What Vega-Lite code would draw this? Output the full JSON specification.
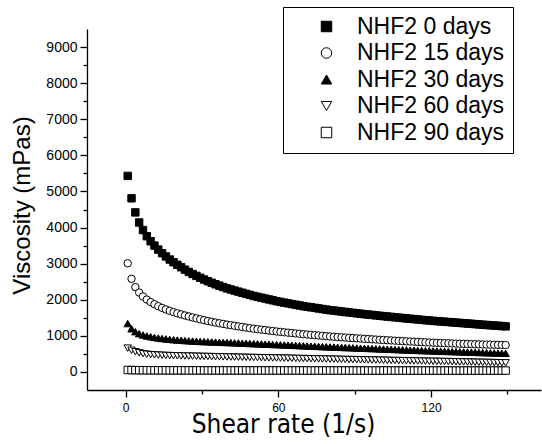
{
"$schema": "https://vega.github.io/schema/vega-lite/v6.json",
"width": 454, "height": 361,
"autosize": "none",
"padding": {"left": 87, "top": 29, "right": 1, "bottom": 54},
"background": "white",
"config": {"view": {"stroke": null}, "font": "Liberation Sans",
 "axis": {"grid": false, "domainColor": "black", "tickColor": "black", "labelColor": "black", "titleColor": "black", "labelFont": "Liberation Sans", "domainWidth": 1.3, "tickWidth": 1.3}},
"data": {"values": [
{"d":0,"x":0.8,"v":5430},{"d":0,"x":2.3,"v":4810},{"d":0,"x":3.8,"v":4420},{"d":0,"x":5.3,"v":4140},{"d":0,"x":6.8,"v":3930},{"d":0,"x":8.3,"v":3760},{"d":0,"x":9.8,"v":3620},{"d":0,"x":11.3,"v":3500},{"d":0,"x":12.8,"v":3390},{"d":0,"x":14.3,"v":3290},
{"d":0,"x":15.8,"v":3200},{"d":0,"x":17.3,"v":3115},{"d":0,"x":18.8,"v":3040},{"d":0,"x":20.3,"v":2968},{"d":0,"x":21.8,"v":2900},{"d":0,"x":23.3,"v":2833},{"d":0,"x":24.8,"v":2770},{"d":0,"x":26.3,"v":2713},{"d":0,"x":27.8,"v":2660},{"d":0,"x":29.3,"v":2608},
{"d":0,"x":30.8,"v":2560},{"d":0,"x":32.3,"v":2513},{"d":0,"x":33.8,"v":2470},{"d":0,"x":35.3,"v":2428},{"d":0,"x":36.8,"v":2390},{"d":0,"x":38.3,"v":2352},{"d":0,"x":39.8,"v":2315},{"d":0,"x":41.3,"v":2284},{"d":0,"x":42.8,"v":2254},{"d":0,"x":44.3,"v":2224},
{"d":0,"x":45.8,"v":2194},{"d":0,"x":47.3,"v":2164},{"d":0,"x":48.8,"v":2134},{"d":0,"x":50.3,"v":2105},{"d":0,"x":51.8,"v":2081},{"d":0,"x":53.3,"v":2057},{"d":0,"x":54.8,"v":2033},{"d":0,"x":56.3,"v":2009},{"d":0,"x":57.8,"v":1985},{"d":0,"x":59.3,"v":1961},
{"d":0,"x":60.8,"v":1940},{"d":0,"x":62.3,"v":1920},{"d":0,"x":63.8,"v":1901},{"d":0,"x":65.3,"v":1881},{"d":0,"x":66.8,"v":1862},{"d":0,"x":68.3,"v":1842},{"d":0,"x":69.8,"v":1823},{"d":0,"x":71.3,"v":1806},{"d":0,"x":72.8,"v":1791},{"d":0,"x":74.3,"v":1775},
{"d":0,"x":75.8,"v":1759},{"d":0,"x":77.3,"v":1743},{"d":0,"x":78.8,"v":1728},{"d":0,"x":80.3,"v":1712},{"d":0,"x":81.8,"v":1700},{"d":0,"x":83.3,"v":1687},{"d":0,"x":84.8,"v":1674},{"d":0,"x":86.3,"v":1661},{"d":0,"x":87.8,"v":1649},{"d":0,"x":89.3,"v":1636},
{"d":0,"x":90.8,"v":1624},{"d":0,"x":92.3,"v":1613},{"d":0,"x":93.8,"v":1601},{"d":0,"x":95.3,"v":1590},{"d":0,"x":96.8,"v":1579},{"d":0,"x":98.3,"v":1568},{"d":0,"x":99.8,"v":1556},{"d":0,"x":101.3,"v":1546},{"d":0,"x":102.8,"v":1535},{"d":0,"x":104.3,"v":1525},
{"d":0,"x":105.8,"v":1514},{"d":0,"x":107.3,"v":1504},{"d":0,"x":108.8,"v":1493},{"d":0,"x":110.3,"v":1483},{"d":0,"x":111.8,"v":1473},{"d":0,"x":113.3,"v":1464},{"d":0,"x":114.8,"v":1454},{"d":0,"x":116.3,"v":1444},{"d":0,"x":117.8,"v":1434},{"d":0,"x":119.3,"v":1425},
{"d":0,"x":120.8,"v":1415},{"d":0,"x":122.3,"v":1407},{"d":0,"x":123.8,"v":1399},{"d":0,"x":125.3,"v":1391},{"d":0,"x":126.8,"v":1383},{"d":0,"x":128.3,"v":1374},{"d":0,"x":129.8,"v":1366},{"d":0,"x":131.3,"v":1359},{"d":0,"x":132.8,"v":1350},{"d":0,"x":134.3,"v":1342},
{"d":0,"x":135.8,"v":1334},{"d":0,"x":137.3,"v":1325},{"d":0,"x":138.8,"v":1317},{"d":0,"x":140.3,"v":1308},{"d":0,"x":141.8,"v":1301},{"d":0,"x":143.3,"v":1293},{"d":0,"x":144.8,"v":1286},{"d":0,"x":146.3,"v":1278},{"d":0,"x":147.8,"v":1271},{"d":0,"x":149.3,"v":1263},
{"d":15,"x":0.8,"v":3010},{"d":15,"x":2.3,"v":2580},{"d":15,"x":3.8,"v":2350},{"d":15,"x":5.3,"v":2200},{"d":15,"x":6.8,"v":2090},{"d":15,"x":8.3,"v":2005},{"d":15,"x":9.8,"v":1935},{"d":15,"x":11.3,"v":1875},{"d":15,"x":12.8,"v":1822},{"d":15,"x":14.3,"v":1775},
{"d":15,"x":15.8,"v":1732},{"d":15,"x":17.3,"v":1693},{"d":15,"x":18.8,"v":1657},{"d":15,"x":20.3,"v":1625},{"d":15,"x":21.8,"v":1595},{"d":15,"x":23.3,"v":1565},{"d":15,"x":24.8,"v":1537},{"d":15,"x":26.3,"v":1510},{"d":15,"x":27.8,"v":1484},{"d":15,"x":29.3,"v":1459},
{"d":15,"x":30.8,"v":1435},{"d":15,"x":32.3,"v":1412},{"d":15,"x":33.8,"v":1390},{"d":15,"x":35.3,"v":1369},{"d":15,"x":36.8,"v":1349},{"d":15,"x":38.3,"v":1330},{"d":15,"x":39.8,"v":1312},{"d":15,"x":41.3,"v":1296},{"d":15,"x":42.8,"v":1279},{"d":15,"x":44.3,"v":1263},
{"d":15,"x":45.8,"v":1246},{"d":15,"x":47.3,"v":1230},{"d":15,"x":48.8,"v":1213},{"d":15,"x":50.3,"v":1197},{"d":15,"x":51.8,"v":1185},{"d":15,"x":53.3,"v":1172},{"d":15,"x":54.8,"v":1159},{"d":15,"x":56.3,"v":1146},{"d":15,"x":57.8,"v":1134},{"d":15,"x":59.3,"v":1121},
{"d":15,"x":60.8,"v":1109},{"d":15,"x":62.3,"v":1099},{"d":15,"x":63.8,"v":1088},{"d":15,"x":65.3,"v":1078},{"d":15,"x":66.8,"v":1067},{"d":15,"x":68.3,"v":1057},{"d":15,"x":69.8,"v":1046},{"d":15,"x":71.3,"v":1037},{"d":15,"x":72.8,"v":1028},{"d":15,"x":74.3,"v":1019},
{"d":15,"x":75.8,"v":1010},{"d":15,"x":77.3,"v":1001},{"d":15,"x":78.8,"v":992},{"d":15,"x":80.3,"v":983},{"d":15,"x":81.8,"v":976},{"d":15,"x":83.3,"v":968},{"d":15,"x":84.8,"v":961},{"d":15,"x":86.3,"v":953},{"d":15,"x":87.8,"v":946},{"d":15,"x":89.3,"v":938},
{"d":15,"x":90.8,"v":931},{"d":15,"x":92.3,"v":925},{"d":15,"x":93.8,"v":918},{"d":15,"x":95.3,"v":911},{"d":15,"x":96.8,"v":904},{"d":15,"x":98.3,"v":898},{"d":15,"x":99.8,"v":891},{"d":15,"x":101.3,"v":885},{"d":15,"x":102.8,"v":879},{"d":15,"x":104.3,"v":873},
{"d":15,"x":105.8,"v":867},{"d":15,"x":107.3,"v":861},{"d":15,"x":108.8,"v":855},{"d":15,"x":110.3,"v":849},{"d":15,"x":111.8,"v":843},{"d":15,"x":113.3,"v":838},{"d":15,"x":114.8,"v":832},{"d":15,"x":116.3,"v":827},{"d":15,"x":117.8,"v":821},{"d":15,"x":119.3,"v":816},
{"d":15,"x":120.8,"v":811},{"d":15,"x":122.3,"v":806},{"d":15,"x":123.8,"v":802},{"d":15,"x":125.3,"v":798},{"d":15,"x":126.8,"v":794},{"d":15,"x":128.3,"v":790},{"d":15,"x":129.8,"v":786},{"d":15,"x":131.3,"v":782},{"d":15,"x":132.8,"v":778},{"d":15,"x":134.3,"v":775},
{"d":15,"x":135.8,"v":771},{"d":15,"x":137.3,"v":768},{"d":15,"x":138.8,"v":765},{"d":15,"x":140.3,"v":761},{"d":15,"x":141.8,"v":759},{"d":15,"x":143.3,"v":756},{"d":15,"x":144.8,"v":754},{"d":15,"x":146.3,"v":751},{"d":15,"x":147.8,"v":749},{"d":15,"x":149.3,"v":746},
{"d":30,"x":0.8,"v":1340},{"d":30,"x":2.3,"v":1195},{"d":30,"x":3.8,"v":1115},{"d":30,"x":5.3,"v":1060},{"d":30,"x":6.8,"v":1025},{"d":30,"x":8.3,"v":998},{"d":30,"x":9.8,"v":975},{"d":30,"x":11.3,"v":956},{"d":30,"x":12.8,"v":940},{"d":30,"x":14.3,"v":926},
{"d":30,"x":15.8,"v":914},{"d":30,"x":17.3,"v":903},{"d":30,"x":18.8,"v":893},{"d":30,"x":20.3,"v":884},{"d":30,"x":21.8,"v":876},{"d":30,"x":23.3,"v":869},{"d":30,"x":24.8,"v":862},{"d":30,"x":26.3,"v":856},{"d":30,"x":27.8,"v":850},{"d":30,"x":29.3,"v":845},
{"d":30,"x":30.8,"v":840},{"d":30,"x":32.3,"v":835},{"d":30,"x":33.8,"v":831},{"d":30,"x":35.3,"v":827},{"d":30,"x":36.8,"v":823},{"d":30,"x":38.3,"v":819},{"d":30,"x":39.8,"v":815},{"d":30,"x":41.3,"v":811},{"d":30,"x":42.8,"v":806},{"d":30,"x":44.3,"v":802},
{"d":30,"x":45.8,"v":797},{"d":30,"x":47.3,"v":793},{"d":30,"x":48.8,"v":788},{"d":30,"x":50.3,"v":784},{"d":30,"x":51.8,"v":779},{"d":30,"x":53.3,"v":775},{"d":30,"x":54.8,"v":770},{"d":30,"x":56.3,"v":766},{"d":30,"x":57.8,"v":761},{"d":30,"x":59.3,"v":757},
{"d":30,"x":60.8,"v":752},{"d":30,"x":62.3,"v":748},{"d":30,"x":63.8,"v":743},{"d":30,"x":65.3,"v":738},{"d":30,"x":66.8,"v":734},{"d":30,"x":68.3,"v":729},{"d":30,"x":69.8,"v":724},{"d":30,"x":71.3,"v":720},{"d":30,"x":72.8,"v":715},{"d":30,"x":74.3,"v":710},
{"d":30,"x":75.8,"v":706},{"d":30,"x":77.3,"v":701},{"d":30,"x":78.8,"v":697},{"d":30,"x":80.3,"v":693},{"d":30,"x":81.8,"v":689},{"d":30,"x":83.3,"v":684},{"d":30,"x":84.8,"v":680},{"d":30,"x":86.3,"v":676},{"d":30,"x":87.8,"v":672},{"d":30,"x":89.3,"v":668},
{"d":30,"x":90.8,"v":664},{"d":30,"x":92.3,"v":659},{"d":30,"x":93.8,"v":655},{"d":30,"x":95.3,"v":651},{"d":30,"x":96.8,"v":647},{"d":30,"x":98.3,"v":643},{"d":30,"x":99.8,"v":638},{"d":30,"x":101.3,"v":634},{"d":30,"x":102.8,"v":630},{"d":30,"x":104.3,"v":626},
{"d":30,"x":105.8,"v":622},{"d":30,"x":107.3,"v":617},{"d":30,"x":108.8,"v":613},{"d":30,"x":110.3,"v":609},{"d":30,"x":111.8,"v":605},{"d":30,"x":113.3,"v":601},{"d":30,"x":114.8,"v":596},{"d":30,"x":116.3,"v":592},{"d":30,"x":117.8,"v":589},{"d":30,"x":119.3,"v":585},
{"d":30,"x":120.8,"v":582},{"d":30,"x":122.3,"v":578},{"d":30,"x":123.8,"v":575},{"d":30,"x":125.3,"v":571},{"d":30,"x":126.8,"v":568},{"d":30,"x":128.3,"v":564},{"d":30,"x":129.8,"v":561},{"d":30,"x":131.3,"v":557},{"d":30,"x":132.8,"v":554},{"d":30,"x":134.3,"v":550},
{"d":30,"x":135.8,"v":547},{"d":30,"x":137.3,"v":543},{"d":30,"x":138.8,"v":540},{"d":30,"x":140.3,"v":536},{"d":30,"x":141.8,"v":533},{"d":30,"x":143.3,"v":529},{"d":30,"x":144.8,"v":526},{"d":30,"x":146.3,"v":522},{"d":30,"x":147.8,"v":519},{"d":30,"x":149.3,"v":515},
{"d":60,"x":0.8,"v":660},{"d":60,"x":2.3,"v":600},{"d":60,"x":3.8,"v":560},{"d":60,"x":5.3,"v":530},{"d":60,"x":6.8,"v":508},{"d":60,"x":8.3,"v":492},{"d":60,"x":9.8,"v":480},{"d":60,"x":11.3,"v":473},{"d":60,"x":12.8,"v":467},{"d":60,"x":14.3,"v":462},
{"d":60,"x":15.8,"v":457},{"d":60,"x":17.3,"v":453},{"d":60,"x":18.8,"v":450},{"d":60,"x":20.3,"v":447},{"d":60,"x":21.8,"v":445},{"d":60,"x":23.3,"v":442},{"d":60,"x":24.8,"v":440},{"d":60,"x":26.3,"v":437},{"d":60,"x":27.8,"v":435},{"d":60,"x":29.3,"v":432},
{"d":60,"x":30.8,"v":430},{"d":60,"x":32.3,"v":427},{"d":60,"x":33.8,"v":425},{"d":60,"x":35.3,"v":422},{"d":60,"x":36.8,"v":420},{"d":60,"x":38.3,"v":418},{"d":60,"x":39.8,"v":416},{"d":60,"x":41.3,"v":413},{"d":60,"x":42.8,"v":411},{"d":60,"x":44.3,"v":409},
{"d":60,"x":45.8,"v":407},{"d":60,"x":47.3,"v":404},{"d":60,"x":48.8,"v":402},{"d":60,"x":50.3,"v":400},{"d":60,"x":51.8,"v":398},{"d":60,"x":53.3,"v":395},{"d":60,"x":54.8,"v":393},{"d":60,"x":56.3,"v":391},{"d":60,"x":57.8,"v":389},{"d":60,"x":59.3,"v":386},
{"d":60,"x":60.8,"v":384},{"d":60,"x":62.3,"v":382},{"d":60,"x":63.8,"v":380},{"d":60,"x":65.3,"v":378},{"d":60,"x":66.8,"v":375},{"d":60,"x":68.3,"v":373},{"d":60,"x":69.8,"v":371},{"d":60,"x":71.3,"v":369},{"d":60,"x":72.8,"v":366},{"d":60,"x":74.3,"v":364},
{"d":60,"x":75.8,"v":362},{"d":60,"x":77.3,"v":360},{"d":60,"x":78.8,"v":357},{"d":60,"x":80.3,"v":355},{"d":60,"x":81.8,"v":353},{"d":60,"x":83.3,"v":351},{"d":60,"x":84.8,"v":348},{"d":60,"x":86.3,"v":346},{"d":60,"x":87.8,"v":344},{"d":60,"x":89.3,"v":342},
{"d":60,"x":90.8,"v":340},{"d":60,"x":92.3,"v":337},{"d":60,"x":93.8,"v":335},{"d":60,"x":95.3,"v":333},{"d":60,"x":96.8,"v":331},{"d":60,"x":98.3,"v":328},{"d":60,"x":99.8,"v":326},{"d":60,"x":101.3,"v":324},{"d":60,"x":102.8,"v":322},{"d":60,"x":104.3,"v":319},
{"d":60,"x":105.8,"v":317},{"d":60,"x":107.3,"v":315},{"d":60,"x":108.8,"v":313},{"d":60,"x":110.3,"v":311},{"d":60,"x":111.8,"v":308},{"d":60,"x":113.3,"v":306},{"d":60,"x":114.8,"v":304},{"d":60,"x":116.3,"v":302},{"d":60,"x":117.8,"v":299},{"d":60,"x":119.3,"v":297},
{"d":60,"x":120.8,"v":295},{"d":60,"x":122.3,"v":293},{"d":60,"x":123.8,"v":290},{"d":60,"x":125.3,"v":288},{"d":60,"x":126.8,"v":286},{"d":60,"x":128.3,"v":284},{"d":60,"x":129.8,"v":282},{"d":60,"x":131.3,"v":279},{"d":60,"x":132.8,"v":277},{"d":60,"x":134.3,"v":275},
{"d":60,"x":135.8,"v":273},{"d":60,"x":137.3,"v":270},{"d":60,"x":138.8,"v":268},{"d":60,"x":140.3,"v":266},{"d":60,"x":141.8,"v":264},{"d":60,"x":143.3,"v":261},{"d":60,"x":144.8,"v":259},{"d":60,"x":146.3,"v":257},{"d":60,"x":147.8,"v":255},{"d":60,"x":149.3,"v":253},
{"d":90,"x":0.8,"v":55},{"d":90,"x":2.3,"v":52},{"d":90,"x":3.8,"v":50},{"d":90,"x":5.3,"v":49},{"d":90,"x":6.8,"v":48},{"d":90,"x":8.3,"v":47},{"d":90,"x":9.8,"v":47},{"d":90,"x":11.3,"v":46},{"d":90,"x":12.8,"v":46},{"d":90,"x":14.3,"v":46},
{"d":90,"x":15.8,"v":46},{"d":90,"x":17.3,"v":45},{"d":90,"x":18.8,"v":45},{"d":90,"x":20.3,"v":45},{"d":90,"x":21.8,"v":45},{"d":90,"x":23.3,"v":45},{"d":90,"x":24.8,"v":44},{"d":90,"x":26.3,"v":44},{"d":90,"x":27.8,"v":44},{"d":90,"x":29.3,"v":44},
{"d":90,"x":30.8,"v":43},{"d":90,"x":32.3,"v":43},{"d":90,"x":33.8,"v":43},{"d":90,"x":35.3,"v":43},{"d":90,"x":36.8,"v":43},{"d":90,"x":38.3,"v":43},{"d":90,"x":39.8,"v":43},{"d":90,"x":41.3,"v":43},{"d":90,"x":42.8,"v":43},{"d":90,"x":44.3,"v":43},
{"d":90,"x":45.8,"v":43},{"d":90,"x":47.3,"v":43},{"d":90,"x":48.8,"v":43},{"d":90,"x":50.3,"v":42},{"d":90,"x":51.8,"v":42},{"d":90,"x":53.3,"v":42},{"d":90,"x":54.8,"v":42},{"d":90,"x":56.3,"v":42},{"d":90,"x":57.8,"v":42},{"d":90,"x":59.3,"v":42},
{"d":90,"x":60.8,"v":42},{"d":90,"x":62.3,"v":42},{"d":90,"x":63.8,"v":42},{"d":90,"x":65.3,"v":42},{"d":90,"x":66.8,"v":42},{"d":90,"x":68.3,"v":42},{"d":90,"x":69.8,"v":41},{"d":90,"x":71.3,"v":41},{"d":90,"x":72.8,"v":41},{"d":90,"x":74.3,"v":41},
{"d":90,"x":75.8,"v":41},{"d":90,"x":77.3,"v":41},{"d":90,"x":78.8,"v":41},{"d":90,"x":80.3,"v":41},{"d":90,"x":81.8,"v":41},{"d":90,"x":83.3,"v":41},{"d":90,"x":84.8,"v":41},{"d":90,"x":86.3,"v":41},{"d":90,"x":87.8,"v":41},{"d":90,"x":89.3,"v":40},
{"d":90,"x":90.8,"v":40},{"d":90,"x":92.3,"v":40},{"d":90,"x":93.8,"v":40},{"d":90,"x":95.3,"v":40},{"d":90,"x":96.8,"v":40},{"d":90,"x":98.3,"v":40},{"d":90,"x":99.8,"v":40},{"d":90,"x":101.3,"v":40},{"d":90,"x":102.8,"v":40},{"d":90,"x":104.3,"v":40},
{"d":90,"x":105.8,"v":40},{"d":90,"x":107.3,"v":40},{"d":90,"x":108.8,"v":39},{"d":90,"x":110.3,"v":39},{"d":90,"x":111.8,"v":39},{"d":90,"x":113.3,"v":39},{"d":90,"x":114.8,"v":39},{"d":90,"x":116.3,"v":39},{"d":90,"x":117.8,"v":39},{"d":90,"x":119.3,"v":39},
{"d":90,"x":120.8,"v":39},{"d":90,"x":122.3,"v":39},{"d":90,"x":123.8,"v":39},{"d":90,"x":125.3,"v":39},{"d":90,"x":126.8,"v":39},{"d":90,"x":128.3,"v":39},{"d":90,"x":129.8,"v":38},{"d":90,"x":131.3,"v":38},{"d":90,"x":132.8,"v":38},{"d":90,"x":134.3,"v":38},
{"d":90,"x":135.8,"v":38},{"d":90,"x":137.3,"v":38},{"d":90,"x":138.8,"v":38},{"d":90,"x":140.3,"v":38},{"d":90,"x":141.8,"v":38},{"d":90,"x":143.3,"v":38},{"d":90,"x":144.8,"v":38},{"d":90,"x":146.3,"v":38},{"d":90,"x":147.8,"v":38},{"d":90,"x":149.3,"v":38}
]},
"layer": [
 {"transform": [{"filter": "datum.d != 90"}],
  "mark": {"type": "point", "filled": true, "strokeWidth": 1, "size": 55, "opacity": 1},
  "encoding": {
   "x": {"field": "x", "type": "quantitative", "scale": {"domain": [-15.2, 163.2], "nice": false, "zero": false},
     "axis": {"orient": "bottom", "values": [0, 60, 120], "tickSize": 7, "labelFontSize": 12, "labelPadding": 5, "labelFlush": false,
       "title": "Shear rate (1/s)", "titleFont": "DejaVu Sans Condensed, Liberation Sans", "titleFontSize": 26, "titleFontWeight": "normal",
       "titleX": 196, "titleY": 42, "titleAlign": "center", "titleBaseline": "alphabetic"}},
   "y": {"field": "v", "type": "quantitative", "scale": {"domain": [-500, 9500], "nice": false, "zero": false},
     "axis": {"orient": "left", "values": [0,1000,2000,3000,4000,5000,6000,7000,8000,9000], "format": "d", "tickSize": 7, "labelFontSize": 14, "labelPadding": 3, "labelFlush": false,
       "title": "Viscosity (mPas)", "titleFontSize": 24, "titleFontWeight": "normal", "titleFont": "Liberation Sans",
       "titleX": -58, "titleY": 176, "titleAngle": 270, "titleAlign": "center", "titleBaseline": "alphabetic"}},
   "shape": {"field": "d", "type": "nominal", "scale": {"domain": [0, 15, 30, 60, 90], "range": ["square", "circle", "triangle-up", "triangle-down", "square"]},
     "legend": {"orient": "none", "legendX": 196, "legendY": -22, "title": null, "strokeColor": "black", "fillColor": "white", "padding": 8,
       "labelFontSize": 23, "labelFont": "Liberation Sans", "labelColor": "black", "symbolSize": 110, "symbolStrokeWidth": 1,
       "rowPadding": 2.5, "symbolOffset": 24, "labelOffset": 19, "labelExpr": "'NHF2 ' + datum.label + ' days'"}},
   "fill": {"field": "d", "type": "nominal", "scale": {"domain": [0, 15, 30, 60, 90], "range": ["black", "white", "black", "white", "white"]},
     "legend": {"orient": "none", "legendX": 196, "legendY": -22, "title": null, "strokeColor": "black", "fillColor": "white", "padding": 8,
       "labelFontSize": 23, "labelFont": "Liberation Sans", "labelColor": "black", "symbolSize": 110, "symbolStrokeWidth": 1,
       "rowPadding": 2.5, "symbolOffset": 24, "labelOffset": 19, "labelExpr": "'NHF2 ' + datum.label + ' days'"}},
   "stroke": {"field": "d", "type": "nominal", "scale": {"domain": [0, 15, 30, 60, 90], "range": ["black", "black", "black", "black", "black"]},
     "legend": {"orient": "none", "legendX": 196, "legendY": -22, "title": null, "strokeColor": "black", "fillColor": "white", "padding": 8,
       "labelFontSize": 23, "labelFont": "Liberation Sans", "labelColor": "black", "symbolSize": 110, "symbolStrokeWidth": 1,
       "rowPadding": 2.5, "symbolOffset": 24, "labelOffset": 19, "labelExpr": "'NHF2 ' + datum.label + ' days'"}}
  }},
 {"transform": [{"filter": "datum.d == 90"}],
  "mark": {"type": "point", "filled": true, "strokeWidth": 1, "size": 55, "opacity": 1},
  "encoding": {
   "x": {"field": "x", "type": "quantitative", "scale": {"domain": [-15.2, 163.2], "nice": false, "zero": false},
     "axis": {"orient": "bottom", "values": [30, 90, 150], "tickSize": 4, "labels": false, "domain": false, "title": null}},
   "y": {"field": "v", "type": "quantitative", "scale": {"domain": [-500, 9500], "nice": false, "zero": false},
     "axis": {"orient": "left", "values": [500,1500,2500,3500,4500,5500,6500,7500,8500], "tickSize": 4, "labels": false, "domain": false, "title": null}},
   "shape": {"field": "d", "type": "nominal"},
   "fill": {"field": "d", "type": "nominal"},
   "stroke": {"field": "d", "type": "nominal"}
  }}
],
"resolve": {"axis": {"x": "independent", "y": "independent"}}
}
